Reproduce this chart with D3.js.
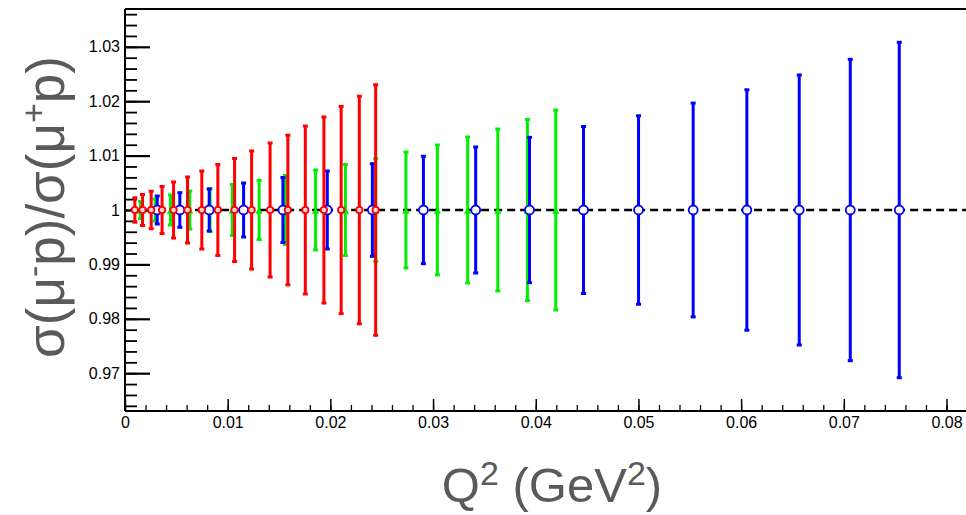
<!DOCTYPE html>
<html>
<head>
<meta charset="utf-8">
<script src="https://cdn.jsdelivr.net/npm/d3@7.9.0/dist/d3.min.js"></script>
<style>
  html, body { margin: 0; padding: 0; background: #fff; }
  svg { display: block; font-family: "Liberation Sans", Arial, sans-serif; }
  .axis path, .axis line { stroke: #000; }
</style>
</head>
<body>
<svg id="chart" width="966" height="515"></svg>
<script>
// Q2 positions (GeV^2) and ratio errors, one set per colour
const redQ2 = [0.00096, 0.00171, 0.00255, 0.00361, 0.00473, 0.00609, 0.00748, 0.00904,
  0.01067, 0.01233, 0.01413, 0.01586, 0.01756, 0.01937, 0.02105, 0.02282, 0.02441];
const redErr = [0.00224, 0.00285, 0.00344, 0.00432, 0.00515, 0.00607, 0.00717, 0.00836,
  0.00947, 0.01085, 0.01232, 0.01375, 0.01544, 0.01710, 0.01904, 0.02092, 0.02303];
const redRatio = [1, 1, 1, 1, 1, 1, 1, 1, 1, 1, 1, 1, 1, 1, 1, 1, 1];

const greenQ2 = [0.00151, 0.00294, 0.00443, 0.00631, 0.00828, 0.01045, 0.01306, 0.01561,
  0.01856, 0.02146, 0.02441, 0.02736, 0.03042, 0.03337, 0.03630, 0.03919, 0.04195];
const greenErr = [0.00156, 0.00202, 0.00276, 0.00349, 0.00395, 0.00469, 0.00544, 0.00634,
  0.00735, 0.00836, 0.00943, 0.01066, 0.01195, 0.01342, 0.01489, 0.01664, 0.01838];
const greenRatio = [1, 1, 1, 1, 1, 1, 1, 1, 1, 1, 1, 1, 1, 1, 1, 1, 1];

const blueQ2 = [0.00314, 0.00534, 0.00820, 0.01155, 0.01538, 0.01970, 0.02409, 0.02906,
  0.03415, 0.03939, 0.04465, 0.05001, 0.05533, 0.06056, 0.06566, 0.07063, 0.07540];
const blueErr = [0.00257, 0.00318, 0.00386, 0.00496, 0.00597, 0.00717, 0.00851, 0.00987,
  0.01158, 0.01336, 0.01535, 0.01732, 0.01965, 0.02210, 0.02482, 0.02770, 0.03083];
const blueRatio = [1, 1, 1, 1, 1, 1, 1, 1, 1, 1, 1, 1, 1, 1, 1, 1, 1];

const xTickValues = [0, 0.01, 0.02, 0.03, 0.04, 0.05, 0.06, 0.07, 0.08];
const yTickValues = [0.97, 0.98, 0.99, 1, 1.01, 1.02, 1.03];
const referenceRatio = 1;

const svg = d3.select('#chart');
const plotLeft = 125, plotRight = 966, plotTop = 9, plotBottom = 411;

let x = d3.scaleLinear().domain([0, 0.08]).range([plotLeft, 946.5]);
let y = d3.scaleLinear().domain([0.96305, 1.03695]).range([plotBottom, plotTop]);

// frame
svg.append('line').attr('x1', plotLeft).attr('x2', plotRight).attr('y1', plotTop).attr('y2', plotTop)
   .attr('stroke', '#000').attr('stroke-width', 2);

// minor ticks
let xMinor = d3.range(0, 0.0825, 0.002);
let yMinor = d3.range(0.964, 1.037, 0.002);

svg.append('g').attr('class', 'axis').attr('transform', `translate(0,${plotBottom})`)
   .call(d3.axisBottom(x).tickValues(xMinor).tickSize(-6).tickFormat(''))
   .call(g => g.select('.domain').remove())
   .selectAll('line').attr('stroke-width', 1.3);
svg.append('g').attr('class', 'axis').attr('transform', `translate(${plotLeft},0)`)
   .call(d3.axisLeft(y).tickValues(yMinor).tickSize(-12).tickFormat(''))
   .call(g => g.select('.domain').remove())
   .selectAll('line').attr('stroke-width', 1.8);

// major ticks + labels
let xAxisG = svg.append('g').attr('class', 'axis').attr('transform', `translate(0,${plotBottom})`)
   .call(d3.axisBottom(x).tickValues(xTickValues).tickSize(-12).tickPadding(6)
         .tickFormat(d => d === 0 ? '0' : d3.format('.2f')(d)))
   .call(g => g.select('.domain').remove());
xAxisG.selectAll('line').attr('stroke-width', 1.5);
xAxisG.selectAll('text').style('font-size', '16px').style('font-family', '"Liberation Sans", Arial, sans-serif');

let yAxisG = svg.append('g').attr('class', 'axis').attr('transform', `translate(${plotLeft},0)`)
   .call(d3.axisLeft(y).tickValues(yTickValues).tickSize(-25).tickPadding(5)
         .tickFormat(d => d === 1 ? '1' : d3.format('.2f')(d)))
   .call(g => g.select('.domain').remove());
yAxisG.selectAll('line').attr('stroke-width', 2.2);
yAxisG.selectAll('text').style('font-size', '16px').style('font-family', '"Liberation Sans", Arial, sans-serif');

// axis lines
svg.append('line').attr('x1', plotLeft).attr('x2', plotRight).attr('y1', plotBottom).attr('y2', plotBottom)
   .attr('stroke', '#000').attr('stroke-width', 2);
svg.append('line').attr('x1', plotLeft).attr('x2', plotLeft).attr('y1', plotTop).attr('y2', plotBottom)
   .attr('stroke', '#000').attr('stroke-width', 2);

function series(q2, ratio, err) {
    return q2.map((q, i) => ({ q: q, v: ratio[i], e: err[i] }));
}

let sets = [
    { data: series(greenQ2, greenRatio, greenErr), color: '#00ee00', marker: 'tri' },
    { data: series(blueQ2, blueRatio, blueErr), color: '#0000ff', marker: 'circle' },
    { data: series(redQ2, redRatio, redErr), color: '#ff0000', marker: 'small' },
];

// error bars
sets.forEach(s => {
    let g = svg.append('g');
    g.selectAll('line').data(s.data).join('line')
     .attr('x1', d => x(d.q)).attr('x2', d => x(d.q))
     .attr('y1', d => y(d.v + d.e)).attr('y2', d => y(d.v - d.e))
     .attr('stroke', s.color).attr('stroke-width', 3);
    ['top', 'bot'].forEach(end => {
        g.selectAll('rect.' + end).data(s.data).join('rect').attr('class', end)
         .attr('x', d => x(d.q) - 2.5)
         .attr('y', d => (end === 'top' ? y(d.v + d.e) : y(d.v - d.e)) - 1.5)
         .attr('width', 5).attr('height', 3)
         .attr('fill', s.color);
    });
});

// reference line at ratio 1
svg.append('line')
   .attr('x1', x(0.0005)).attr('x2', plotRight)
   .attr('y1', y(referenceRatio)).attr('y2', y(referenceRatio))
   .attr('stroke', '#000').attr('stroke-width', 2.4).attr('stroke-dasharray', '8,5');

// markers
sets.forEach(s => {
    let g = svg.append('g');
    if (s.marker === 'circle') {
        g.selectAll('circle').data(s.data).join('circle')
         .attr('cx', d => x(d.q)).attr('cy', d => y(d.v)).attr('r', 4.5)
         .attr('fill', '#fff').attr('stroke', s.color).attr('stroke-width', 1.8);
    } else if (s.marker === 'small') {
        g.selectAll('circle').data(s.data).join('circle')
         .attr('cx', d => x(d.q)).attr('cy', d => y(d.v)).attr('r', 3.2)
         .attr('fill', '#ffd6d6').attr('stroke', s.color).attr('stroke-width', 1.8);
    } else {
        g.selectAll('path').data(s.data).join('path')
         .attr('transform', d => `translate(${x(d.q)},${y(d.v) + 1.5})`)
         .attr('d', d3.symbol(d3.symbolTriangle, 24))
         .attr('fill', s.color);
    }
});

// axis titles
svg.append('text')
   .attr('x', 552).attr('y', 502)
   .attr('text-anchor', 'middle')
   .attr('fill', '#5a5a5a').attr('font-size', 49)
   .html('Q<tspan dy="-17" font-size="34">2</tspan><tspan dy="17"> (GeV</tspan><tspan dy="-17" font-size="34">2</tspan><tspan dy="17">)</tspan>');

svg.append('text')
   .attr('transform', 'translate(64,207) rotate(-90)')
   .attr('text-anchor', 'middle')
   .attr('fill', '#5a5a5a').attr('font-size', 53)
   .html('σ(μ<tspan dy="-19" font-size="34">-</tspan><tspan dy="19">p)/σ(μ</tspan><tspan dy="-19" font-size="34">+</tspan><tspan dy="19">p)</tspan>');
</script>
</body>
</html>
